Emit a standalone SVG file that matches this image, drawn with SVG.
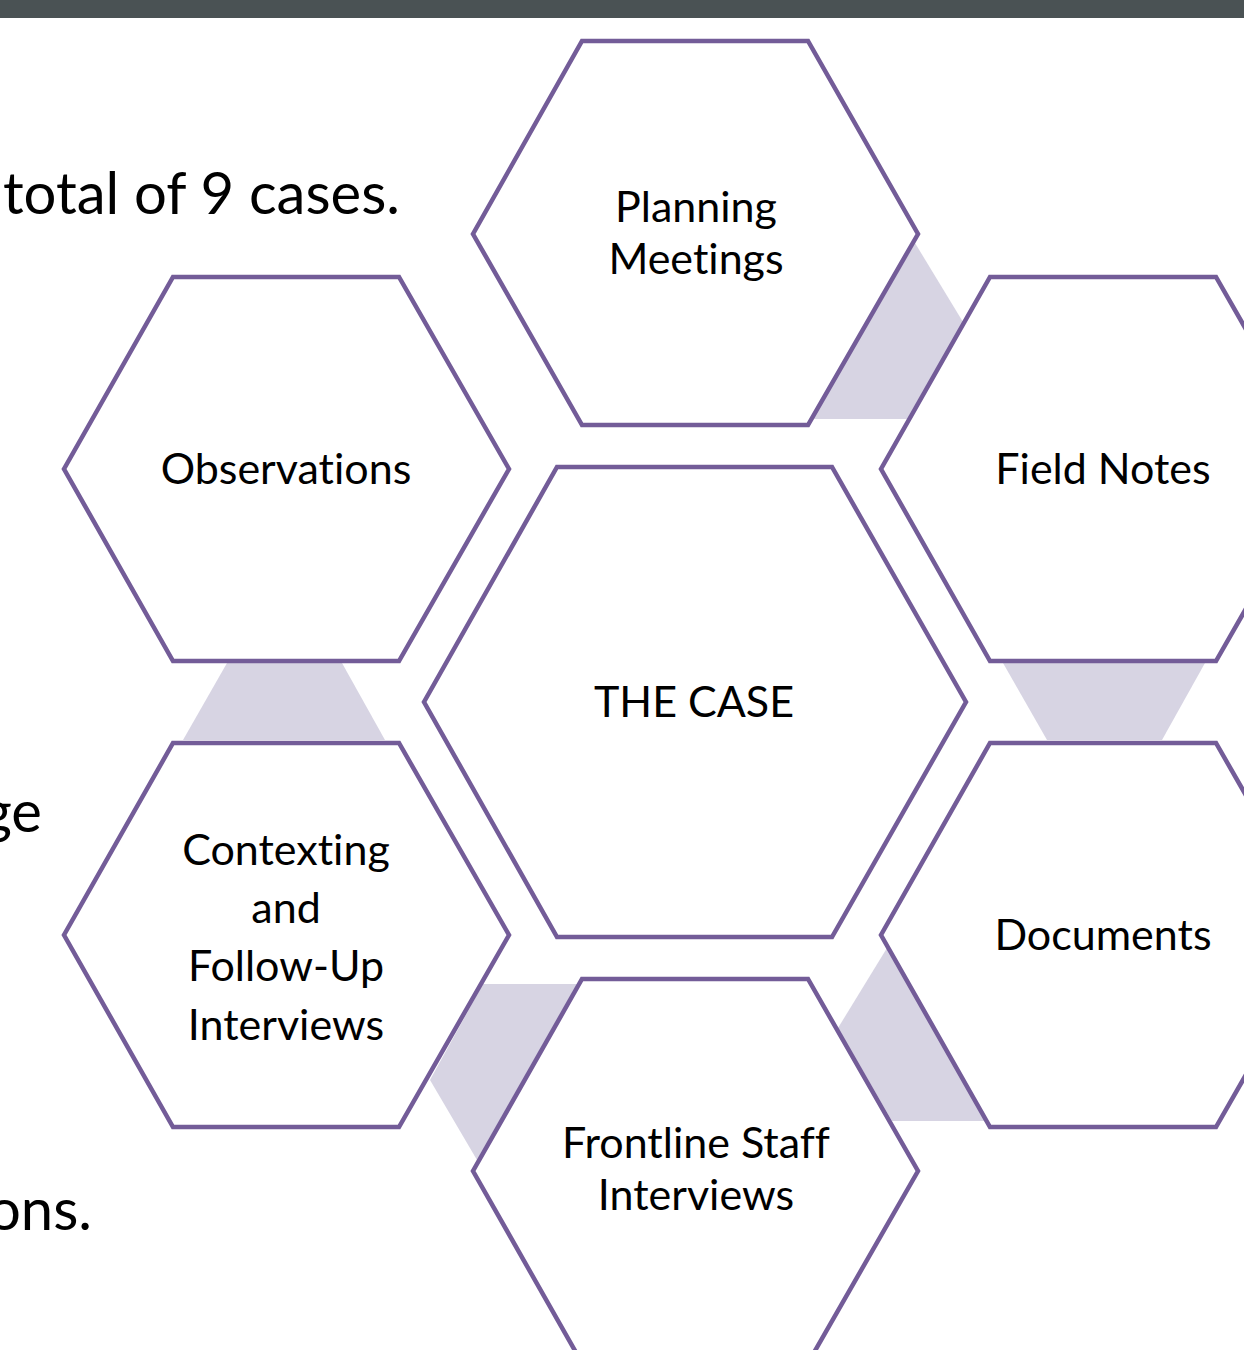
<svg xmlns="http://www.w3.org/2000/svg" width="1244" height="1350" viewBox="0 0 1244 1350">
  <style>
    .hex { fill: #ffffff; stroke: #735c98; stroke-width: 4.5; stroke-linejoin: miter; }
    .link { fill: #d7d4e3; stroke: none; }
    .lbl { font-family: Lato, "Liberation Sans", sans-serif; font-size: 43px; fill: #000000; text-anchor: middle; font-variant-ligatures: none; }
    .body { font-family: Lato, "Liberation Sans", sans-serif; font-size: 58px; fill: #000000; text-anchor: end; font-variant-ligatures: none; }
  </style>

  <rect x="0" y="0" width="1244" height="18" fill="#4a5254"/>

  <!-- slide body text, partly hidden behind the cluster -->
  <text class="body" x="400" y="214">total of 9 cases.</text>
  <text class="body" x="42" y="832">ge</text>
  <text class="body" x="92" y="1230">ons.</text>

  <!-- shaded connectors between neighbouring hexagons -->
  <g id="connectors">
    <polygon class="link" points="915,243 963,322 907,419 813,419"/>
    <polygon class="link" points="227,663 342,663 385,740 183,740"/>
    <polygon class="link" points="1003,663 1205,663 1162,740 1047,740"/>
    <polygon class="link" points="483,984 577,984 477,1160 430,1080"/>
    <polygon class="link" points="887,948 838,1028 892,1121 987,1121"/>
  </g>

  <g id="planning-meetings">
    <polygon class="hex" points="582,41 808,41 918,234 808,425 582,425 473,234"/>
    <text class="lbl" x="696" y="222">Planning</text>
    <text class="lbl" x="696" y="274">Meetings</text>
  </g>

  <g id="observations">
    <polygon class="hex" points="173,277 399,277 509,469 399,661 173,661 64,469"/>
    <text class="lbl" x="286" y="484">Observations</text>
  </g>

  <g id="field-notes">
    <polygon class="hex" points="990,277 1216,277 1326,469 1216,661 990,661 881,469"/>
    <text class="lbl" x="1103" y="484">Field Notes</text>
  </g>

  <g id="the-case">
    <polygon class="hex" points="557,467 832,467 966,702 832,937 557,937 424,702"/>
    <text class="lbl" x="694" y="717">THE CASE</text>
  </g>

  <g id="contexting">
    <polygon class="hex" points="173,743 399,743 509,935 399,1127 173,1127 64,935"/>
    <text class="lbl" x="286" y="865">Contexting</text>
    <text class="lbl" x="286" y="923">and</text>
    <text class="lbl" x="286" y="981">Follow-Up</text>
    <text class="lbl" x="286" y="1040">Interviews</text>
  </g>

  <g id="documents">
    <polygon class="hex" points="990,743 1216,743 1326,935 1216,1127 990,1127 881,935"/>
    <text class="lbl" x="1103" y="950">Documents</text>
  </g>

  <g id="frontline-staff">
    <polygon class="hex" points="582,979 808,979 918,1171 808,1363 582,1363 473,1171"/>
    <text class="lbl" x="696" y="1158">Frontline Staff</text>
    <text class="lbl" x="696" y="1210">Interviews</text>
  </g>
</svg>
